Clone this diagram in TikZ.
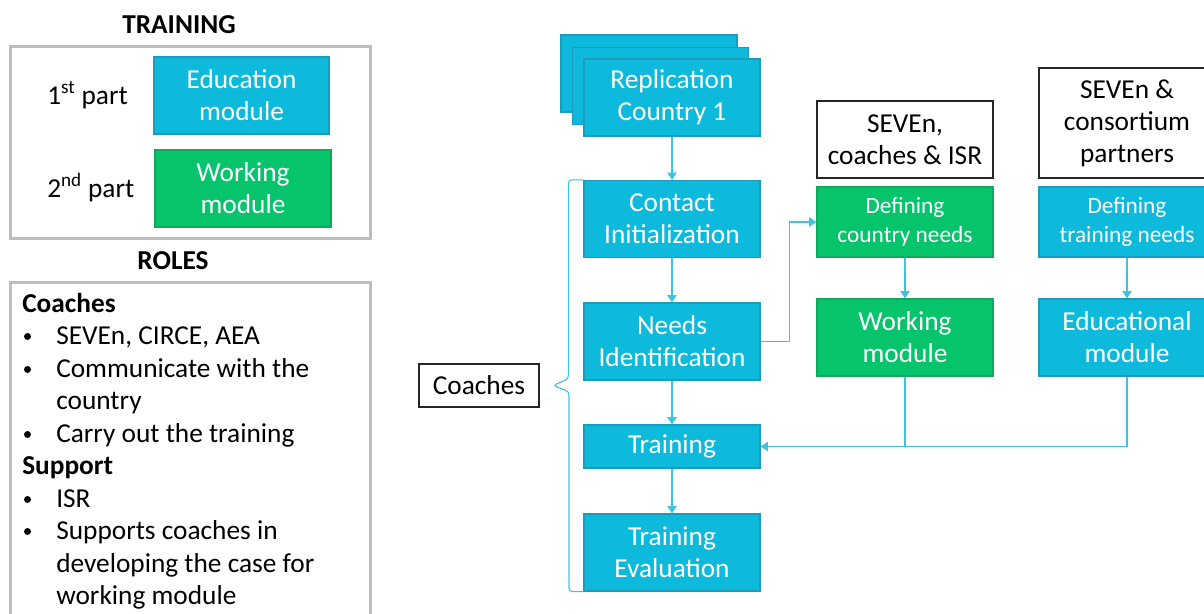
\documentclass[tikz,border=0pt]{standalone}
\usepackage{fontspec}
\setmainfont{Carlito}
\usetikzlibrary{arrows.meta,
                positioning}
\definecolor{stepcyan}{HTML}{0DBADC}
\definecolor{stepcyanedge}{HTML}{1A9DBD}
\definecolor{stepgreen}{HTML}{05C46B}
\definecolor{stepgreenedge}{HTML}{10A95C}
\definecolor{flowline}{HTML}{3DC2E0}
\definecolor{framegray}{HTML}{BEBEBE}
\tikzset{stepbox/.style =
   {rectangle,
    draw=stepcyanedge,
    fill=stepcyan,
    text=white,
    line width=0.9pt,
    align=center,
    inner sep=0pt,
    minimum width=132pt,
    minimum height=57.75pt,
    font=\fontsize{20.5}{24}\selectfont}}
\tikzset{greenbox/.style = {stepbox, draw=stepgreenedge, fill=stepgreen}}
\tikzset{smalltext/.style = {font=\fontsize{17.5}{21.75}\selectfont}}
\tikzset{whobox/.style =
   {rectangle,
    draw=black!85,
    line width=1.1pt,
    align=center,
    inner sep=0pt,
    minimum width=132pt,
    font=\fontsize{20.5}{24}\selectfont}}
\tikzset{plain/.style = {inner sep=0pt, font=\fontsize{20.5}{24}\selectfont}}
\tikzset{frame/.style = {draw=framegray, line width=2.25pt}}
\tikzset{arrow/.style = {draw=flowline, line width=0.8pt, -{Triangle[width=7pt,length=5.5pt]}}}
\tikzset{bracket/.style = {draw=flowline, line width=0.8pt, rounded corners=2.5pt}}

\begin{document}
\begin{tikzpicture}[x=0.75pt, y=-0.75pt]
    \useasboundingbox (0,0) rectangle (1204,614);
    \clip (0,0) rectangle (1204,614);

    % training parts
    \node [plain, anchor=base, font=\fontsize{20.5}{24}\bfseries] (trainhead) at (179,33) {TRAINING};
    \draw [frame] (10,46) rectangle (370,238);
    \node [stepbox, minimum width=131.25pt] (edumod) at (241.5,95.5) {Education\\module};
    \node [greenbox] (workmod) at (243,188.5) {Working\\module};
    \node [plain, anchor=base west] (firstpart) at (47,104) {1\textsuperscript{st} part};
    \node [plain, anchor=base west] (secondpart) at (47,197) {2\textsuperscript{nd} part};

    % roles
    \node [plain, anchor=base, font=\fontsize{20.5}{24}\bfseries] (roleshead) at (173,269) {ROLES};
    \draw [frame] (10,282) rectangle (370,650);
    \foreach \x/\y/\txt in {22/312/{\textbf{Coaches}},
                            56/344/{SEVEn, CIRCE, AEA},
                            56/377/{Communicate with the},
                            56/409/{country},
                            56/442/{Carry out the training},
                            22/474/{\textbf{Support}},
                            56/507/{ISR},
                            56/539/{Supports coaches in},
                            56/572/{developing the case for},
                            56/604/{working module}}
        \node [plain, anchor=base west] at (\x,\y) {\txt};
    \foreach \y in {344,377,442,507,539}
        \fill (27.5,\y-7.5) circle [radius=2.6pt];

    % main flow
    \node [stepbox] (rep3) at (649,73.5) {};
    \node [stepbox] (rep2) at (660.5,86) {};
    \node [stepbox] (rep1) at (672,97.5) {Replication\\Country 1};
    \node [stepbox] (contact) at (672,219) {Contact\\Initialization};
    \node [stepbox] (needs) at (672,341.5) {Needs\\Identification};
    \node [stepbox, minimum height=32.25pt] (training) at (672,446.5) {Training};
    \node [stepbox] (evaluation) at (672,552.5) {Training\\Evaluation};

    \node [whobox, minimum width=90pt, minimum height=32.25pt] (coaches) at (479,385.5) {Coaches};
    \coordinate (bracetip) at (553,385.5);
    \draw [bracket] (contact.north west) -- ++(-15,0) -- ++(0,199)
     -- (bracetip) -- ++(16,6) |- (evaluation.south west);

    % who does what
    \node [whobox, minimum height=57.75pt] (sevencoaches) at (905,139.5) {SEVEn,\\coaches \& ISR};
    \node [greenbox, smalltext, minimum height=52.5pt] (countryneeds) at (905,222) {Defining\\country needs};
    \node [greenbox] (working) at (905,337.5) {Working\\module};

    \node [whobox, minimum height=82.5pt] (consortium) at (1127,123) {SEVEn \&\\consortium\\partners};
    \node [stepbox, smalltext, minimum height=52.5pt] (trainingneeds) at (1127,222) {Defining\\training needs};
    \node [stepbox] (educational) at (1127,337.5) {Educational\\module};

    % connectors
    \draw [arrow] (rep1) -- (contact);
    \draw [arrow] (contact) -- (needs);
    \draw [arrow] (needs) -- (training);
    \draw [arrow] (training) -- (evaluation);
    \draw [arrow] (needs.east) -- ++(29,0) |- (countryneeds.west);
    \draw [arrow] (countryneeds) -- (working);
    \draw [arrow] (trainingneeds) -- (educational);
    \draw [arrow] (working.south) |- (training.east);
    \draw [draw=flowline, line width=0.8pt] (educational.south) |- (working.south |- training.east);

\end{tikzpicture}
\end{document}
